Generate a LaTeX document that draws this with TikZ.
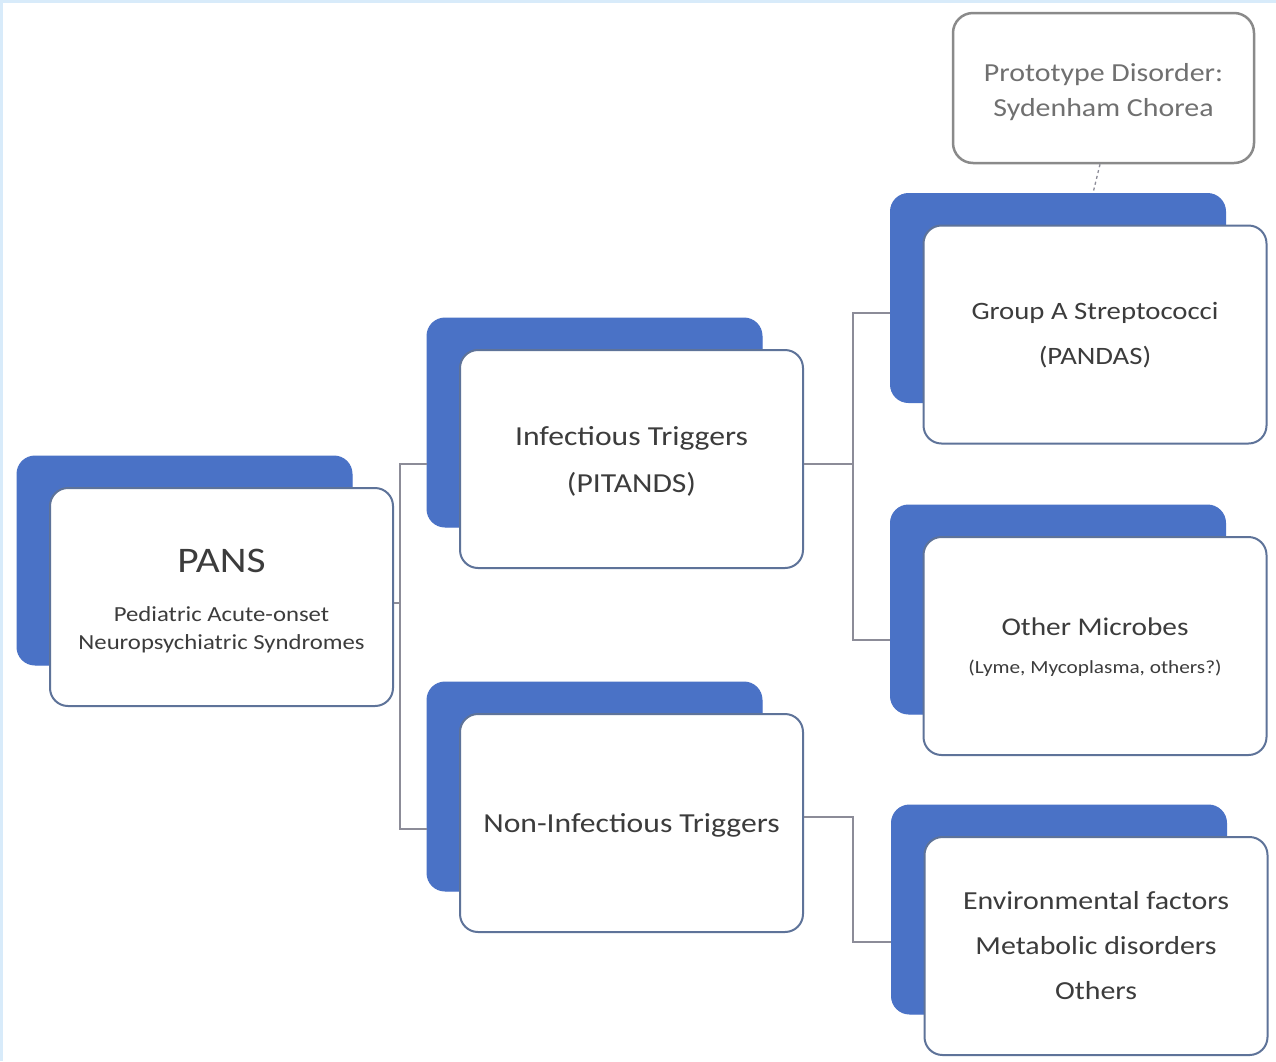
\documentclass[tikz,border=0pt]{standalone}
\usepackage{fontspec}
\setmainfont[FakeStretch=1.15]{Carlito}
\definecolor{backblue}{HTML}{4A72C6}
\definecolor{frontedge}{HTML}{5E7399}
\definecolor{txt}{HTML}{3C3C3C}
\definecolor{prototxt}{HTML}{707070}
\definecolor{protoedge}{HTML}{8A8A8A}
\definecolor{connc}{HTML}{8C8C98}
\definecolor{framec}{HTML}{D8EBFA}
\tikzset{
  backbox/.style={fill=backblue, draw=backblue, line width=1pt, rounded corners=18pt,
    minimum width=335pt, minimum height=209pt, inner sep=0pt},
  frontbox/.style={fill=white, draw=frontedge, line width=2pt, rounded corners=18pt,
    minimum width=343pt, minimum height=218pt, inner sep=0pt},
  protobox/.style={fill=white, draw=protoedge, line width=2.5pt, rounded corners=20pt,
    minimum width=301pt, minimum height=150pt, inner sep=0pt},
  lbl/.style={inner sep=0pt, align=center, text=txt, anchor=base},
  conn/.style={draw=connc, line width=1.3pt},
  dconn/.style={draw=connc, line width=1.3pt, dashed},
}
\begin{document}
\begin{tikzpicture}[x=1pt,y=-1pt]
\useasboundingbox (0,0) rectangle (1276,1061);
\fill[white] (0,0) rectangle (1276,1061);
\draw[framec, line width=3pt] (1.5,1061) -- (1.5,1.5) -- (1276,1.5);

% back boxes
\node[backbox] (pansB)   at (184.5,560.5) {};
\node[backbox] (infB)    at (594.5,422.5) {};
\node[backbox] (noninfB) at (594.5,786.5) {};
\node[backbox] (gasB)    at (1058,298) {};
\node[backbox] (omB)     at (1058,609.5) {};
\node[backbox] (envB)    at (1059,909.5) {};

% front boxes
\node[frontbox] (pans)   at (221.5,597) {};
\node[frontbox] (inf)    at (631.5,459) {};
\node[frontbox] (noninf) at (631.5,823) {};
\node[frontbox] (gas)    at (1095,334.5) {};
\node[frontbox] (om)     at (1095,646) {};
\node[frontbox] (env)    at (1096,946) {};
\node[protobox] (proto)  at (1103.5,88) {};

% texts (baselines)
\node[lbl, font=\fontsize{36}{40}\selectfont] (tPans) at (221.5,572) {PANS};
\node[lbl, font=\fontsize{21.5}{26}\selectfont] (tPans2) at (221.5,621) {Pediatric Acute-onset};
\node[lbl, font=\fontsize{21.5}{26}\selectfont] (tPans3) at (221.5,649) {Neuropsychiatric Syndromes};

\node[lbl, font=\fontsize{27.5}{30}\selectfont] (tInf1) at (631.5,445) {Infectious Triggers};
\node[lbl, font=\fontsize{27.5}{30}\selectfont] (tInf2) at (631.5,492) {(PITANDS)};

\node[lbl, font=\fontsize{27.5}{30}\selectfont] (tNon) at (631.5,832) {Non-Infectious Triggers};

\node[lbl, font=\fontsize{25}{30}\selectfont] (tGas1) at (1095,319) {Group A Streptococci};
\node[lbl, font=\fontsize{25}{30}\selectfont] (tGas2) at (1095,364) {(PANDAS)};

\node[lbl, font=\fontsize{25.5}{30}\selectfont] (tOm1) at (1095,635) {Other Microbes};
\node[lbl, font=\fontsize{18.5}{22}\selectfont] (tOm2) at (1095,673) {(Lyme, Mycoplasma, others?)};

\node[lbl, font=\fontsize{26}{30}\selectfont] (tEnv1) at (1096,909) {Environmental factors};
\node[lbl, font=\fontsize{26}{30}\selectfont] (tEnv2) at (1096,954) {Metabolic disorders};
\node[lbl, font=\fontsize{26}{30}\selectfont] (tEnv3) at (1096,999) {Others};

\node[lbl, text=prototxt, font=\fontsize{26}{30}\selectfont] (tPro1) at (1103.5,81) {Prototype Disorder:};
\node[lbl, text=prototxt, font=\fontsize{26}{30}\selectfont] (tPro2) at (1103.5,116) {Sydenham Chorea};

% connectors level 1
\coordinate (b1t) at (400,464);
\coordinate (b1b) at (400,829);
\draw[conn] (pans.east |- 0,603) -- (b1t |- 0,603);
\draw[conn] (infB.west |- b1t) -- (b1t) -- (b1b) -- (noninfB.west |- b1b);

% connectors level 2
\coordinate (b2t) at (853,313);
\coordinate (b2b) at (853,640);
\draw[conn] (inf.east |- 0,464) -- (b2t |- 0,464);
\draw[conn] (gasB.west |- b2t) -- (b2t) -- (b2b) -- (omB.west |- b2b);

\coordinate (b3t) at (853,817);
\coordinate (b3b) at (853,942);
\draw[conn] (noninf.east |- b3t) -- (b3t) -- (b3b) -- (envB.west |- b3b);

% prototype link
\draw[dconn] (proto.south -| 1100,0) -- (gasB.north -| 1093,0);
\end{tikzpicture}
\end{document}
